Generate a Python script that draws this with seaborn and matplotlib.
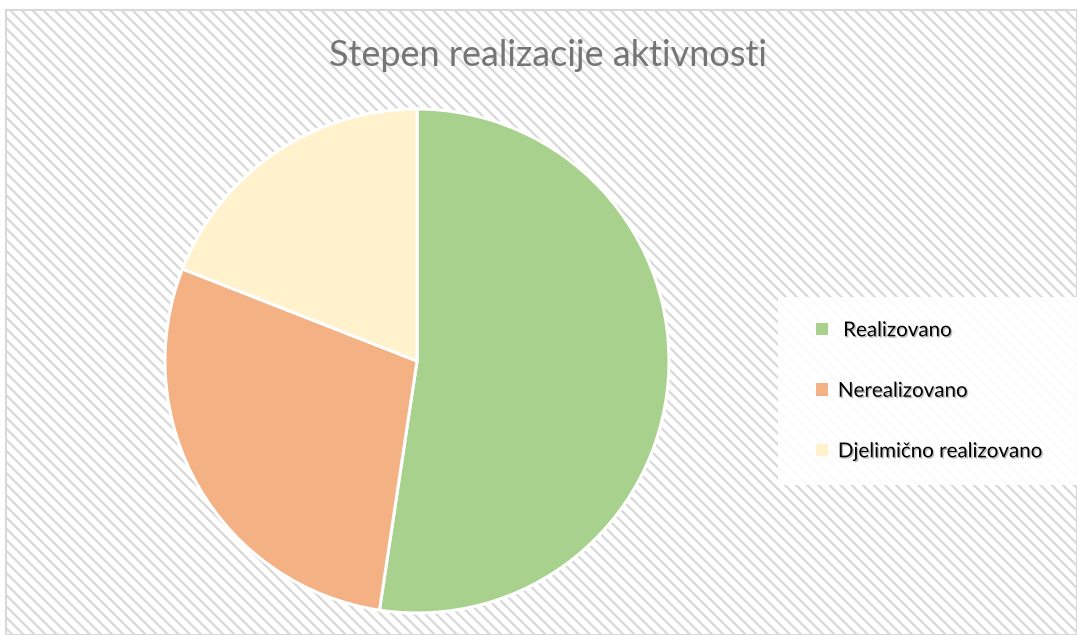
import matplotlib
matplotlib.use("Agg")
import matplotlib.pyplot as plt
import matplotlib.patches as mpatches
import matplotlib.patheffects as pe
import seaborn as sns

labels = ["Realizovano", "Nerealizovano", "Djelimično realizovano"]
values = [11, 6, 4]
colors = ["#A9D18E", "#F4B183", "#FFF2CC"]
title = "Stepen realizacije aktivnosti"

sns.set_theme(style="white")
plt.rcParams['font.family'] = ['Lato', 'DejaVu Sans']
plt.rcParams['hatch.color'] = '#ebebeb'
plt.rcParams['hatch.linewidth'] = 1.6

W, H = 1077, 635
fig = plt.figure(figsize=(W / 100, H / 100), dpi=100)
fig.patch.set_facecolor("white")

# hatched chart area
bg = mpatches.Rectangle((6 / W, 0), 1 - 6 / W, 1 - 10 / H, transform=fig.transFigure,
                        facecolor="white", edgecolor="#d9d9d9", linewidth=1.5,
                        hatch="\\\\\\", zorder=-10)
fig.patches.append(bg)

# pie axes centred at (417, 361) px, radius 252 px
cx, cy, r = 417, 361, 252
ax = fig.add_axes([(cx - r) / W, (H - cy - r) / H, 2 * r / W, 2 * r / H])
ax.set_facecolor("none")
wedges, _ = ax.pie(values, colors=colors, startangle=90, counterclock=False,
                   wedgeprops=dict(edgecolor="white", linewidth=2.2))
ax.set_xlim(-1.0, 1.0)
ax.set_ylim(-1.0, 1.0)
ax.set_aspect("equal")
ax.axis("off")

fig.text(548 / W, 1 - 55 / H, title, ha="center", va="center",
         fontsize=26, color="#757575")

# legend box
box = mpatches.Rectangle((778 / W, 1 - 485 / H), (W - 778) / W, 188 / H,
                         transform=fig.transFigure, facecolor="white",
                         edgecolor="none", alpha=0.9, zorder=-5)
fig.patches.append(box)

handles = [mpatches.Patch(facecolor=c, edgecolor="none") for c in colors]
leg = fig.legend(handles, [" " + labels[0]] + labels[1:], loc="upper left",
                 bbox_to_anchor=(806 / W, 1 - 310 / H), frameon=False,
                 fontsize=14.8, labelspacing=1.97, handlelength=0.55, handleheight=0.55,
                 handletextpad=0.5, borderpad=0)
for t in leg.get_texts():
    t.set_color("black")
    t.set_path_effects([pe.withSimplePatchShadow(offset=(1, -1), shadow_rgbFace="#000000", alpha=0.25)])

fig.savefig("out.png", dpi=100)
